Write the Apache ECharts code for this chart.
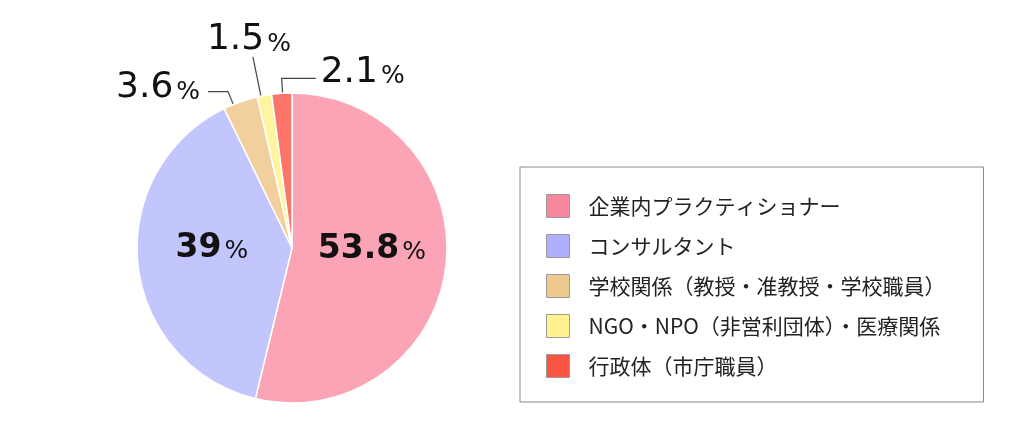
<!DOCTYPE html>
<html>
<head>
<meta charset="utf-8">
<script src="https://cdn.jsdelivr.net/npm/echarts@6/dist/echarts.min.js"></script>
<style>
html,body{margin:0;padding:0;background:#fff;}
#chart{width:1024px;height:423px;}
</style>
</head>
<body>
<div id="chart"></div>
<script>
const categories = ['企業内プラクティショナー','コンサルタント','学校関係（教授・准教授・学校職員）','NGO・NPO（非営利団体）・医療関係','行政体（市庁職員）'];
const values = [53.8, 39, 3.6, 1.5, 2.1];
const sliceColors = ['#fba4b6','#c3c6fd','#f2d09e','#fff5a0','#fd7468'];
const legendColors = ['#f7879c','#aeb0fb','#edc88f','#fff28f','#fb5443'];
const insideLabel = [true, true, false, false, false];

const pieRadius = 155;
// leader line shapes (style only): inset into slice, radial length, tilt (deg), horizontal arm, side
const lineShapes = {
  2: {inset: 9, len: 14, rot: 2.8, arm: 20, side: -1, gap: 8, dy: -4},
  3: {inset: 2, len: 40, rot: 1.3, up: true, dx: -4, dy: 1},
  4: {inset: 10, len: 15, rot: -0.3, arm: 34, side: 1, gap: 5, dy: -6}
};

const numFont = 'DejaVu Sans';
const chart = echarts.init(document.getElementById('chart'));

const data = values.map(function (v, i) {
  const item = {name: categories[i], value: v, itemStyle: {color: sliceColors[i]}};
  if (insideLabel[i]) {
    item.label = {
      position: 'inside',
      formatter: '{n|' + v + '}{p|%}',
      rich: {
        n: {fontFamily: numFont, fontSize: 33, fontWeight: 'bold', color: '#111', verticalAlign: 'bottom'},
        p: {fontFamily: numFont, fontSize: 25, fontWeight: 'normal', color: '#111', verticalAlign: 'bottom', padding: [0,0,1,3]}
      }
    };
    item.labelLine = {show: false};
  }
  return item;
});

chart.setOption({
  animation: false,
  backgroundColor: '#fff',
  legend: {
    orient: 'vertical',
    left: 520,
    top: 167,
    padding: [27, 38, 24, 26],
    borderColor: '#8a8a8a',
    borderWidth: 1,
    itemWidth: 23,
    itemHeight: 23,
    itemGap: 16,
    icon: 'rect',
    selectedMode: false,
    textStyle: {
      fontFamily: 'Noto Sans CJK JP',
      fontSize: 21,
      lineHeight: 23,
      color: '#222',
      padding: [0, 0, 0, 14]
    },
    data: categories.map(function (c, i) {
      return {name: c, itemStyle: {color: legendColors[i], borderColor: '#9a9a9a', borderWidth: 1}};
    })
  },
  series: [{
    type: 'pie',
    center: [292, 248],
    radius: pieRadius,
    startAngle: 90,
    clockwise: true,
    avoidLabelOverlap: false,
    itemStyle: {borderColor: '#fff', borderWidth: 1.5},
    emphasis: {disabled: true},
    label: {
      show: true,
      position: 'outside',
      formatter: function (p) { return '{n|' + p.value + '}{p|%}'; },
      rich: {
        n: {fontFamily: numFont, fontSize: 36, color: '#111', verticalAlign: 'bottom'},
        p: {fontFamily: numFont, fontSize: 25, color: '#111', verticalAlign: 'bottom', padding: [0,0,1,3]}
      }
    },
    labelLine: {
      show: true,
      length: 15,
      length2: 10,
      lineStyle: {color: '#444', width: 1.2}
    },
    labelLayout: function (p) {
      const pts = p.labelLinePoints;
      const r = p.labelRect;
      if (insideLabel[p.dataIndex]) {
        return {x: r.x + r.width / 2, y: r.y + r.height / 2 - 8, align: 'center', verticalAlign: 'middle'};
      }
      const s = lineShapes[p.dataIndex];
      if (!pts || !s) return {};
      const a = pts[0], b0 = pts[1];
      let ux = b0[0] - a[0], uy = b0[1] - a[1];
      const l = Math.hypot(ux, uy) || 1; ux /= l; uy /= l;
      const cx = a[0] - ux * pieRadius, cy = a[1] - uy * pieRadius;
      const th = Math.atan2(-uy, ux) + s.rot * Math.PI / 180;
      const vx = Math.cos(th), vy = -Math.sin(th);
      const start = [cx + vx * (pieRadius - s.inset), cy + vy * (pieRadius - s.inset)];
      const b = [cx + vx * (pieRadius + s.len), cy + vy * (pieRadius + s.len)];
      if (s.up) {
        return {x: b[0] + s.dx, y: b[1] + s.dy, align: 'center', verticalAlign: 'bottom', labelLinePoints: [start, b, b]};
      }
      const c = [b[0] + s.side * s.arm, b[1]];
      return {
        x: c[0] + s.side * s.gap, y: c[1] + s.dy,
        align: s.side > 0 ? 'left' : 'right', verticalAlign: 'middle',
        labelLinePoints: [start, b, c]
      };
    },
    data: data
  }]
});
</script>
</body>
</html>
